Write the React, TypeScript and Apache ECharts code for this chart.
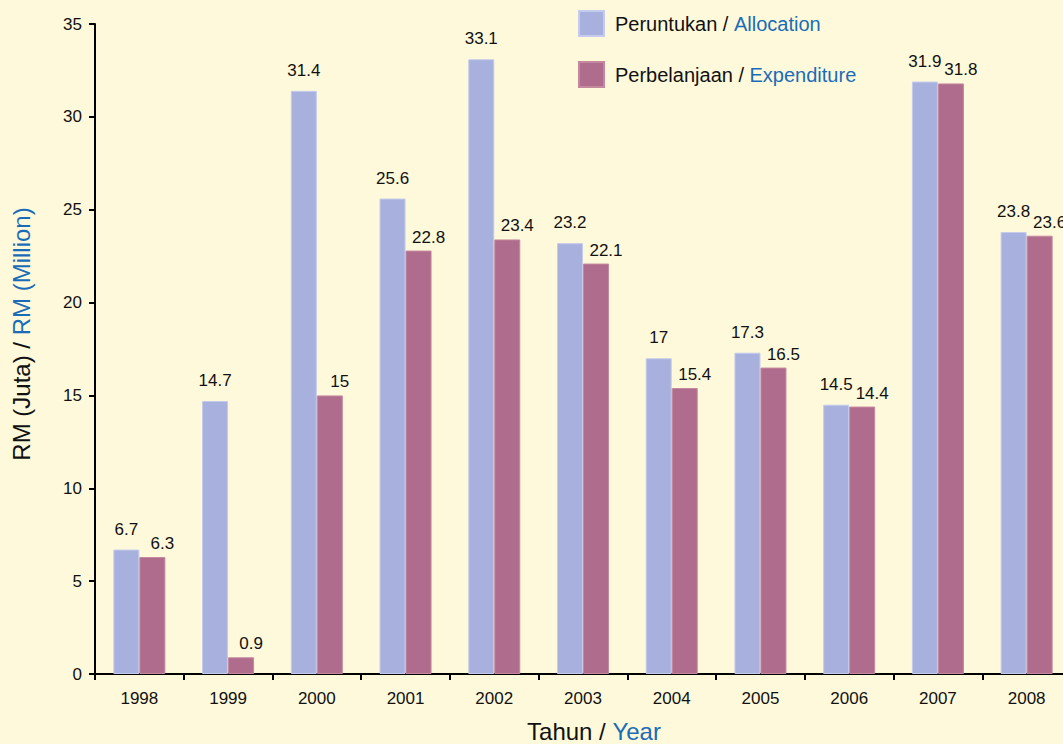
import React, { useEffect, useRef } from "react";
import * as echarts from "echarts";

const years = ["1998", "1999", "2000", "2001", "2002", "2003", "2004", "2005", "2006", "2007", "2008"];
const allocation = [6.7, 14.7, 31.4, 25.6, 33.1, 23.2, 17, 17.3, 14.5, 31.9, 23.8];
const expenditure = [6.3, 0.9, 15, 22.8, 23.4, 22.1, 15.4, 16.5, 14.4, 31.8, 23.6];
const yTicks = { min: 0, max: 35, interval: 5 };

const FONT = "Liberation Sans, Arial, sans-serif";
const BLUE = "#1a6cb8";
const BLACK = "#111111";

export default function App() {
  const ref = useRef<HTMLDivElement>(null);
  useEffect(() => {
    if (!ref.current) return;
    const chart = echarts.init(ref.current, undefined, { renderer: "svg" });
    chart.setOption({
      animation: false,
      backgroundColor: "#fef9da",
      textStyle: { fontFamily: FONT },
      grid: { left: 95, top: 24, bottom: 70, right: 0, containLabel: false },
      legend: {
        left: 578,
        top: 10,
        padding: 0,
        orient: "vertical",
        itemWidth: 25,
        itemHeight: 25,
        itemGap: 24,
        icon: "rect",
        selectedMode: false,
        data: ["Peruntukan / Allocation", "Perbelanjaan / Expenditure"],
        formatter: (name: string) => {
          const [a, b] = name.split(" / ");
          return `{a|${a} / }{b|${b}}`;
        },
        textStyle: {
          fontSize: 20,
          fontFamily: FONT,
          rich: {
            a: { fontSize: 20, color: BLACK, fontFamily: FONT, padding: [0, 0, 0, 6] },
            b: { fontSize: 20, color: BLUE, fontFamily: FONT },
          },
        },
      },
      xAxis: {
        type: "category",
        data: years,
        axisLine: { lineStyle: { color: "#000", width: 2 } },
        axisTick: { show: true, length: 6, lineStyle: { color: "#000", width: 2 } },
        axisLabel: { color: BLACK, fontSize: 17, fontFamily: FONT, margin: 16 },
      },
      yAxis: {
        type: "value",
        min: yTicks.min,
        max: yTicks.max,
        interval: yTicks.interval,
        splitLine: { show: false },
        axisLine: { show: true, lineStyle: { color: "#000", width: 2 } },
        axisTick: { show: true, length: 6, lineStyle: { color: "#000", width: 2 } },
        axisLabel: { color: BLACK, fontSize: 17, fontFamily: FONT, margin: 13 },
      },
      graphic: [
        {
          type: "text",
          x: 21,
          y: 334,
          rotation: Math.PI / 2,
          style: {
            text: "{a|RM (Juta) / }{b|RM (Million)}",
            align: "center",
            verticalAlign: "middle",
            rich: {
              a: { fontSize: 24, fill: BLACK, fontFamily: FONT },
              b: { fontSize: 24, fill: BLUE, fontFamily: FONT },
            },
          },
        },
        {
          type: "text",
          x: 594,
          y: 731,
          style: {
            text: "{a|Tahun / }{b|Year}",
            align: "center",
            verticalAlign: "middle",
            rich: {
              a: { fontSize: 24, fill: BLACK, fontFamily: FONT },
              b: { fontSize: 24, fill: BLUE, fontFamily: FONT },
            },
          },
        },
      ],
      series: [
        {
          name: "Peruntukan / Allocation",
          type: "bar",
          data: allocation,
          barWidth: 26,
          barGap: "0%",
          itemStyle: { color: "#a8b0dd", borderColor: "#c4cbec", borderWidth: 1 },
          label: {
            show: true,
            position: "top",
            distance: 12,
            color: BLACK,
            fontSize: 17,
            fontFamily: FONT,
          },
        },
        {
          name: "Perbelanjaan / Expenditure",
          type: "bar",
          data: expenditure,
          barWidth: 26,
          barGap: "0%",
          itemStyle: { color: "#b06c8c", borderColor: "#c4899f", borderWidth: 1 },
          label: {
            show: true,
            position: "top",
            distance: 5,
            offset: [10, 0],
            color: BLACK,
            fontSize: 17,
            fontFamily: FONT,
          },
        },
      ],
    });
    return () => chart.dispose();
  }, []);
  return (
    <div style={{ position: "fixed", left: 0, top: 0, width: 1063, height: 744, overflow: "hidden" }}>
      <div ref={ref} style={{ width: 1071, height: 744 }} />
    </div>
  );
}
